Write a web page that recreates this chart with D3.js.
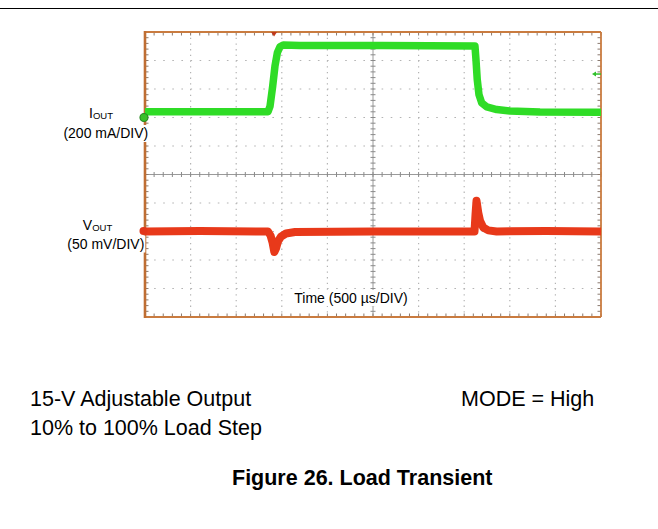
<!DOCTYPE html>
<html>
<head>
<meta charset="utf-8">
<script src="https://cdn.jsdelivr.net/npm/d3@7"></script>
<style>
  html, body { margin: 0; padding: 0; background: #fff; }
  svg { display: block; font-family: "Liberation Sans", Arial, sans-serif; }
</style>
</head>
<body>
<svg id="chart" width="658" height="529"></svg>
<script>
// ---- data (time in µs, current in mA, voltage deviation in mV) ----
const iTime   = [0, 1349, 1371, 1400, 1425, 1451, 1480, 1516, 1700, 2600, 3618, 3629, 3643, 3662, 3692, 3747, 3857, 4002, 4331, 5000];
const iValues = [40,  40,   79,  220,  360,  454,  496,  509,  505,  505,  502,  407,  267,  161,  103,   74,   56,   46,   39,   36];
const vTime   = [0, 600, 1349, 1376, 1398, 1418, 1436, 1458, 1491, 1546, 1645, 2500, 3613, 3624, 3635, 3654, 3673, 3709, 3764, 3856, 4400, 5000];
const vValues = [0,   1,    0,   -7,  -19,  -36,  -30, -17.5,  -9, -3.5,   -1,    0,    0,   30,   54,   33,   19,    7,    2,    0,    1,    0];
const timeDivisions = 10;
const timePerDiv = 500;         // µs/DIV
const currentPerDiv = 200;      // mA/DIV
const voltagePerDiv = 50;       // mV/DIV
const ch1OffsetDiv = 2;         // ch1 ground marker, divisions above centre
const ch2OffsetDiv = -2;        // ch2 ground marker
const triggerTime = 1415;       // µs
const triggerLevel = 305;       // mA
const iLabel = ["I", "OUT", "(200 mA/DIV)"];
const vLabel = ["V", "OUT", "(50 mV/DIV)"];
const timeLabel = "Time (500 µs/DIV)";
const noteLines = ["15-V Adjustable Output", "10% to 100% Load Step"];
const modeText = "MODE = High";
const figureTitle = "Figure 26. Load Transient";

// ---- layout ----
const svg = d3.select("#chart");
const L = 145, R = 601, T = 32, B = 317;
const x = d3.scaleLinear().domain([0, timeDivisions * timePerDiv]).range([L, R]);
const yDiv = d3.scaleLinear().domain([-5, 5]).range([B, T]);
const iScale = d3.scaleLinear()
  .domain([(-5 - ch1OffsetDiv) * currentPerDiv, (5 - ch1OffsetDiv) * currentPerDiv]).range([B, T]);
const vScale = d3.scaleLinear()
  .domain([(-5 - ch2OffsetDiv) * voltagePerDiv, (5 - ch2OffsetDiv) * voltagePerDiv]).range([B, T]);

// top rule
svg.append("line").attr("x1", 0).attr("x2", 658).attr("y1", 8.5).attr("y2", 8.5)
  .attr("stroke", "#000").attr("stroke-width", 1.2);

const g = svg.append("g");
g.append("rect").attr("x", L).attr("y", T).attr("width", R - L).attr("height", B - T).attr("fill", "#fff");

// dotted grid
const divs = d3.range(1, timeDivisions);
const gridCol = "#b4b4b4";
divs.filter(d => d !== 5).forEach(d => {
  const xx = x(d * timePerDiv);
  g.append("line").attr("x1", xx).attr("x2", xx).attr("y1", T).attr("y2", B)
    .attr("stroke", gridCol).attr("stroke-width", 1.2).attr("stroke-dasharray", "1.3,4.4");
});
d3.range(-4, 5).filter(d => d !== 0).forEach(d => {
  const yy = yDiv(d);
  g.append("line").attr("x1", L).attr("x2", R).attr("y1", yy).attr("y2", yy)
    .attr("stroke", gridCol).attr("stroke-width", 1.2).attr("stroke-dasharray", "1.6,7.5");
});

// centre cross with minor ticks
const cx = x(timeDivisions * timePerDiv / 2), cy = yDiv(0);
g.append("line").attr("x1", cx).attr("x2", cx).attr("y1", T).attr("y2", B).attr("stroke", "#9a9a9a").attr("stroke-width", 1);
g.append("line").attr("x1", L).attr("x2", R).attr("y1", cy).attr("y2", cy).attr("stroke", "#9a9a9a").attr("stroke-width", 1);
const minorX = d3.range(0, timeDivisions * 5 + 1).map(k => x(k * timePerDiv / 5));
const minorY = d3.range(-25, 26).map(k => yDiv(k / 5));
minorX.forEach(xx => {
  g.append("line").attr("x1", xx).attr("x2", xx).attr("y1", cy - 2.5).attr("y2", cy + 2.5).attr("stroke", "#8a8a8a");
  g.append("line").attr("x1", xx).attr("x2", xx).attr("y1", T).attr("y2", T + 3.5).attr("stroke", "#8a7a70");
  g.append("line").attr("x1", xx).attr("x2", xx).attr("y1", B - 3.5).attr("y2", B).attr("stroke", "#8a7a70");
});
minorY.forEach(yy => {
  g.append("line").attr("x1", cx - 2.5).attr("x2", cx + 2.5).attr("y1", yy).attr("y2", yy).attr("stroke", "#8a8a8a");
  g.append("line").attr("x1", L).attr("x2", L + 3.5).attr("y1", yy).attr("y2", yy).attr("stroke", "#8a7a70");
  g.append("line").attr("x1", R - 3.5).attr("x2", R).attr("y1", yy).attr("y2", yy).attr("stroke", "#8a7a70");
});

// frame
const frameCol = "#c97b3f";
g.append("line").attr("x1", L).attr("x2", R).attr("y1", T).attr("y2", T).attr("stroke", frameCol).attr("stroke-width", 1.8);
g.append("line").attr("x1", L).attr("x2", R).attr("y1", B).attr("y2", B).attr("stroke", frameCol).attr("stroke-width", 2.2);
g.append("line").attr("x1", R).attr("x2", R).attr("y1", T).attr("y2", B).attr("stroke", frameCol).attr("stroke-width", 1.8);
g.append("line").attr("x1", L).attr("x2", L).attr("y1", T - 1).attr("y2", B + 1).attr("stroke", "#bf6e33").attr("stroke-width", 2.6);

// time label
const tl = svg.append("text").attr("x", 351).attr("y", 303).attr("text-anchor", "middle")
  .attr("font-size", 14).attr("fill", "#000").text(timeLabel);
const tb = tl.node().getBBox();
svg.insert("rect", "text").attr("x", tb.x - 1).attr("y", tb.y).attr("width", tb.width + 2).attr("height", tb.height)
  .attr("fill", "#fff");

// traces
const line = (xs, ys, sy) => d3.line().x((d, k) => x(xs[k])).y(d => sy(d)).curve(d3.curveLinear)(ys);
svg.append("path").attr("d", line(iTime, iValues, iScale)).attr("fill", "none")
  .attr("stroke", "#2fdc26").attr("stroke-width", 7.5).attr("stroke-linejoin", "round").attr("stroke-linecap", "butt");
svg.append("path").attr("d", line(vTime, vValues, vScale)).attr("fill", "none")
  .attr("stroke", "#e8391a").attr("stroke-width", 8).attr("stroke-linejoin", "round").attr("stroke-linecap", "butt");

// trigger marker (top) and level arrow (right)
const tx = x(triggerTime);
svg.append("path").attr("d", `M${tx - 3},${T} L${tx + 3},${T} L${tx},${T + 4.5} Z`).attr("fill", "#c0391b");
const ty = iScale(triggerLevel);
svg.append("line").attr("x1", R - 6).attr("x2", R).attr("y1", ty).attr("y2", ty).attr("stroke", "#2fc02a").attr("stroke-width", 1.5);
svg.append("path").attr("d", `M${R - 9},${ty} L${R - 5},${ty - 2.5} L${R - 5},${ty + 2.5} Z`).attr("fill", "#2fc02a");

// channel ground markers
svg.append("circle").attr("cx", 144).attr("cy", iScale(0)).attr("r", 4).attr("fill", "#3cbf2a").attr("stroke", "#2a8a22").attr("stroke-width", 1.2);
svg.append("circle").attr("cx", 143.5).attr("cy", vScale(0) - 0.5).attr("r", 4).attr("fill", "#e2361a");

// channel labels
function chanLabel(lab, cxMain, yMain, cxSub, ySub) {
  const t = svg.append("text").attr("x", cxMain).attr("y", yMain).attr("text-anchor", "middle")
    .attr("font-size", 14).attr("fill", "#000");
  t.append("tspan").text(lab[0]);
  t.append("tspan").attr("font-size", 9.5).attr("dy", 1).text(lab[1]);
  const s = svg.append("text").attr("x", cxSub).attr("y", ySub).attr("text-anchor", "middle")
    .attr("font-size", 14).attr("fill", "#000").text(lab[2]);
  const bb = s.node().getBBox();
  svg.insert("rect", "text").attr("x", bb.x - 1).attr("y", bb.y).attr("width", bb.width + 2).attr("height", bb.height + 1)
    .attr("fill", "#fff");
}
// move label rects above the frame: insert before first text keeps them under texts but above frame group
chanLabel(iLabel, 101, 118, 105.8, 138);
chanLabel(vLabel, 97.5, 230, 105.8, 248.5);

// notes
const noteFont = 21.5;
svg.selectAll("text.note").data(noteLines).join("text").attr("class", "note")
  .attr("x", 30).attr("y", (d, k) => 406 + k * 29).attr("font-size", noteFont).attr("fill", "#000").text(d => d);
svg.append("text").attr("x", 461).attr("y", 406).attr("font-size", noteFont).attr("fill", "#000").text(modeText);
svg.append("text").attr("x", 232).attr("y", 485).attr("font-size", noteFont).attr("font-weight", "bold")
  .attr("fill", "#000").text(figureTitle);
</script>
</body>
</html>
